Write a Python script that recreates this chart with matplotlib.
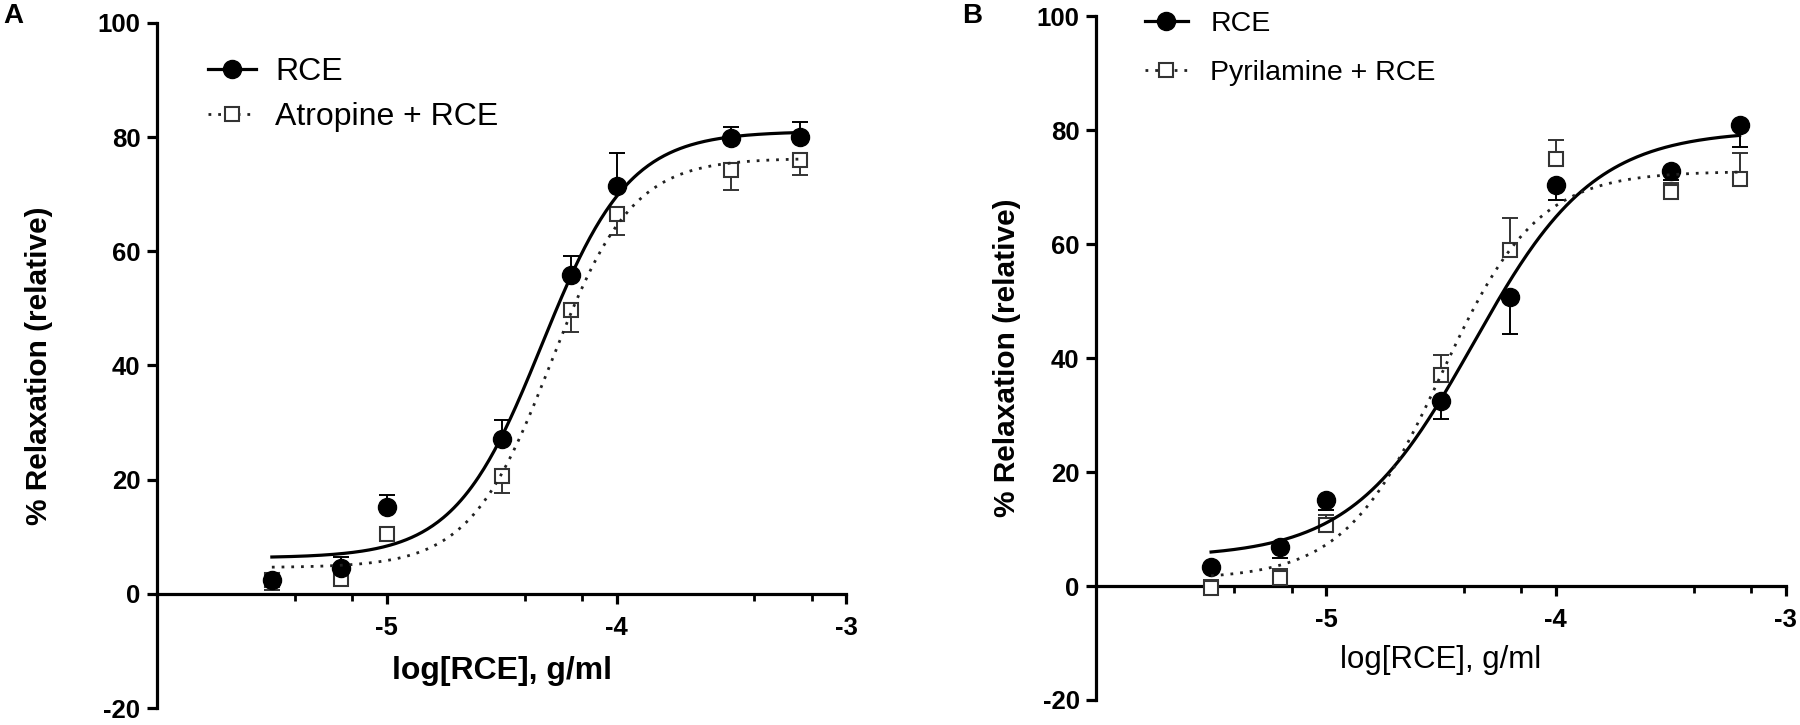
import numpy as np
import matplotlib
matplotlib.use("Agg")
import matplotlib.pyplot as plt
from matplotlib.lines import Line2D

plt.rcParams['font.family'] = ['Liberation Sans', 'DejaVu Sans']
plt.rcParams['axes.unicode_minus'] = False

# log[RCE] doses, g/ml
log_dose = [-5.5, -5.2, -5.0, -4.5, -4.2, -4.0, -3.5, -3.2]

# panel A
a_rce = [2.5, 4.5, 15.2, 27.1, 55.8, 71.5, 79.8, 80.0]
a_rce_err = [1.0, 1.9, 2.1, 3.4, 3.4, 5.8, 2.0, 2.6]     # drawn above
a_atr = [2.5, 2.6, 10.4, 20.7, 49.8, 66.6, 74.2, 76.0]
a_atr_err = [1.9, 0.8, 0.8, 3.1, 4.0, 3.8, 3.5, 2.6]     # drawn below
# fitted curves: bottom, top, logEC50, hill
a_rce_fit = [6.3, 81.0, -4.325, 2.29]
a_atr_fit = [4.6, 76.3, -4.286, 2.46]

# panel B
b_rce = [3.4, 6.9, 15.1, 32.5, 50.7, 70.4, 72.8, 81.0]
b_rce_err = [0.5, 2.0, 1.7, 3.1, 6.4, 2.7, 1.5, 4.0]     # drawn below
b_pyr = [-0.3, 1.4, 10.7, 37.0, 59.0, 75.0, 69.2, 71.4]
b_pyr_err = [1.4, 1.6, 1.8, 3.5, 5.6, 3.3, 1.6, 4.6]     # drawn above
b_rce_fit = [5.0, 80.0, -4.36, 1.65]
b_pyr_fit = [1.2, 72.8, -4.50, 2.07]

labels_a = ['RCE', 'Atropine + RCE']
labels_b = ['RCE', 'Pyrilamine + RCE']


def logistic(xx, p):
    return p[0] + (p[1] - p[0]) / (1 + 10 ** ((p[2] - xx) * p[3]))


fig = plt.figure(figsize=(18, 7.25), dpi=100)
axA = fig.add_axes([0.0872, 0.0234, 0.383, 0.945])
axB = fig.add_axes([0.609, 0.0345, 0.383, 0.943])

xs = np.linspace(log_dose[0], log_dose[-1], 300)
zeros = np.zeros(len(log_dose))

panels = [
    (axA, a_rce, a_rce_err, 'up', a_atr, a_atr_err, 'down', a_rce_fit, a_atr_fit, 'bold', 23, -13.5, -0.171),
    (axB, b_rce, b_rce_err, 'down', b_pyr, b_pyr_err, 'up', b_rce_fit, b_pyr_fit, 'normal', 22.5, -13.0, -0.130),
]

for ax, y1, e1, d1, y2, e2, d2, f1, f2, xw, xfs, xly, ylx in panels:
    # one-sided error bars, like the original
    err1 = [zeros, e1] if d1 == 'up' else [e1, zeros]
    err2 = [zeros, e2] if d2 == 'up' else [e2, zeros]
    ax.errorbar(log_dose, y2, yerr=err2, fmt='none', ecolor='#333333', elinewidth=1.4,
                capsize=6, capthick=1.4, zorder=2, clip_on=False)
    ax.errorbar(log_dose, y1, yerr=err1, fmt='none', ecolor='black', elinewidth=1.4,
                capsize=6, capthick=1.4, zorder=2, clip_on=False)
    ax.plot(log_dose, y2, 's', ms=10, mfc='white', mec='#333333', mew=1.5, zorder=3, clip_on=False)
    ax.plot(log_dose, y1, 'o', ms=13, color='black', zorder=3, clip_on=False)
    ax.plot(xs, logistic(xs, f1), '-', color='black', lw=2.3, zorder=4)
    ax.plot(xs, logistic(xs, f2), color='#222222', lw=2.0, ls=(0, (1, 2.5)), zorder=4)

    ax.set_xlim(-6, -3)
    ax.set_ylim(-20, 100)
    for s in ['top', 'right']:
        ax.spines[s].set_visible(False)
    ax.spines['bottom'].set_position(('data', 0))
    ax.spines['left'].set_linewidth(2.3)
    ax.spines['bottom'].set_linewidth(2.3)
    ax.set_xticks([-5, -4, -3])
    ax.set_xticks([-5.4, -5.15, -4.4, -4.15, -3.4, -3.15], minor=True)
    ax.set_yticks([-20, 0, 20, 40, 60, 80, 100])
    ax.tick_params(axis='both', which='major', length=7, width=2.3, labelsize=18.5, pad=5)
    ax.tick_params(axis='x', which='minor', length=5, width=2.0)
    ax.tick_params(axis='x', which='major', pad=9)
    for t in ax.get_xticklabels() + ax.get_yticklabels():
        t.set_fontweight('bold')

    ax.text(-4.5, xly, 'log[RCE], g/ml', ha='center', va='center', fontsize=xfs, fontweight=xw)
    ax.text(ylx, 0.5, '% Relaxation (relative)', transform=ax.transAxes, rotation=90,
            ha='center', va='center', fontsize=21.5, fontweight='bold')


def sq_handle():
    return Line2D([], [], color='#222222', lw=2.0, ls=(0, (1, 2.5)), marker='s', ms=10,
                  mfc='white', mec='#333333', mew=1.5)


dot_handle = Line2D([], [], color='black', lw=2.3, marker='o', ms=13)
fig.legend([dot_handle, sq_handle()], labels_a, loc='upper left', bbox_to_anchor=(0.1156, 0.921),
           frameon=False, fontsize=23, handlelength=1.5, handletextpad=0.6,
           labelspacing=0.47, borderpad=0, borderaxespad=0)
fig.legend([dot_handle, sq_handle()], labels_b, loc='upper left', bbox_to_anchor=(0.636, 0.985),
           frameon=False, fontsize=20.5, handlelength=1.5, handletextpad=0.8,
           labelspacing=0.82, borderpad=0, borderaxespad=0)

fig.text(0.0075, 0.978, 'A', fontsize=20, fontweight='bold', ha='center', va='center')
fig.text(0.540, 0.978, 'B', fontsize=20, fontweight='bold', ha='center', va='center')

fig.savefig('out.png', dpi=100)
